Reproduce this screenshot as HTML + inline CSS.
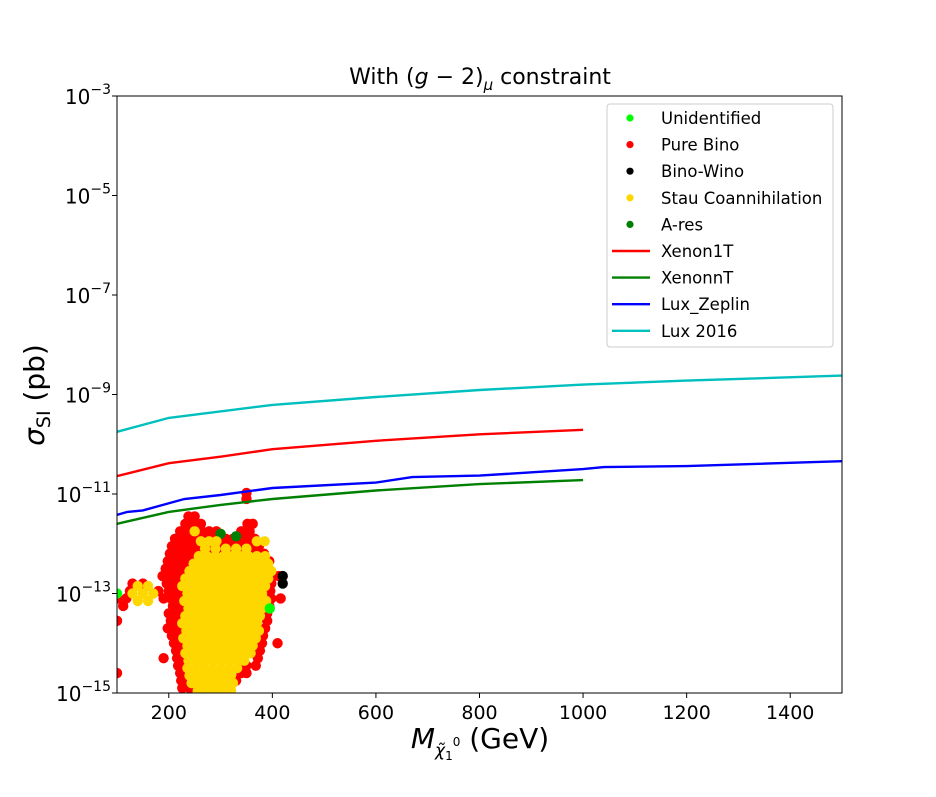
<!DOCTYPE html>
<html><head><meta charset="utf-8"><style>
body{margin:0;background:#fff;}
svg text{font-family:"DejaVu Sans","Liberation Sans",sans-serif;}
</style></head><body>
<svg id="chart" width="936" height="792" viewBox="0 0 936 792">
<text x="480" y="84" font-size="22" text-anchor="middle">With (<tspan font-style="italic">g</tspan> − 2)<tspan font-style="italic" font-size="15" dy="6">μ</tspan><tspan dy="-6"> constraint</tspan></text>
<g id="plot"></g>
<g id="axes"></g>
<text transform="translate(44,395) rotate(-90)" font-size="28" text-anchor="middle"><tspan font-style="italic">σ</tspan><tspan font-size="19" dy="6">SI</tspan><tspan dy="-6"> (pb)</tspan></text>
<text x="480" y="748" font-size="28" text-anchor="middle"><tspan font-style="italic">M</tspan><tspan font-size="17" dy="8" font-style="italic">χ̃</tspan><tspan font-size="12" dy="4">1</tspan><tspan font-size="12" dy="-14">0</tspan><tspan dy="2"> (GeV)</tspan></text>
<g id="legend"></g>
</svg>
<script>
const X0=117,X1=842,Y0=96,Y1=693;
const xMin=100,xMax=1500,yMin=-15,yMax=-3;
const xTicks=[200,400,600,800,1000,1200,1400];
const yTicks=[-15,-13,-11,-9,-7,-5,-3];
const yTickLabels=["10","10","10","10","10","10","10"];
const yTickExps=["−15","−13","−11","−9","−7","−5","−3"];
const lux2016X=[100,200,400,600,800,1000,1200,1500];
const lux2016Y=[-9.75,-9.47,-9.21,-9.05,-8.91,-8.8,-8.72,-8.62];
const xenon1tX=[100,200,300,400,600,800,1000];
const xenon1tY=[-10.64,-10.38,-10.25,-10.1,-9.93,-9.8,-9.71];
const lzX=[100,120,150,230,300,400,600,670,800,1000,1040,1200,1500];
const lzY=[-11.42,-11.36,-11.33,-11.1,-11.02,-10.88,-10.77,-10.66,-10.63,-10.5,-10.46,-10.44,-10.34];
const xnntX=[100,200,300,400,600,800,1000];
const xnntY=[-11.6,-11.36,-11.22,-11.1,-10.93,-10.8,-10.72];
const redRows=[
[-10.98,350],[-11.1,350],
[-11.45,238,250],
[-11.6,232,246,262,352,362],
[-11.75,222,236,250,264,278,292,340,356],
[-11.9,212,226,240,254,268,282,296,310,324,338,352,366],
[-12.05,206,220,234,248,262,276,290,304,318,332,346,360,374],
[-12.2,202,216,230,244,258,272,286,300,314,328,342,356,370,384],
[-12.35,198,212,226,240,254,268,282,296,310,324,338,352,366,380,394],
[-12.5,194,208,222,236,250,264,278,292,306,320,334,348,362,376,390],
[-12.65,188,202,216,230,244,258,272,388,402,412],
[-12.8,196,210,224,238,252,398,130,150],
[-12.95,200,214,228,242,396,125,180],
[-13.1,100,190,204,218,232,398,416,118],
[-13.25,208,222,236,394,112],
[-13.4,200,214,228,390],
[-13.55,100,204,218,232,390],
[-13.7,198,212,226,386],
[-13.85,206,220,234,382],
[-14.0,210,224,380,410],
[-14.15,214,228,376],
[-14.3,216,230,372,190],
[-14.45,218,232,368,350],
[-14.6,100,222,236,350,340],
[-14.75,224,238,330],
[-14.9,226,240,256]];
const yellowRows=[
[-11.75,250],
[-11.95,262,278,292,370,385],
[-12.1,270,290,310,330,350],
[-12.25,258,274,290,306,322,338,354,370,386],
[-12.4,248,264,280,296,312,328,344,360,376,392],
[-12.55,240,256,272,288,304,320,336,352,368,384,398],
[-12.7,232,248,264,280,296,312,328,344,360,376,392],
[-12.85,226,242,258,274,290,306,322,338,354,370,386,140,160],
[-13.0,130,150,170,236,252,268,284,300,316,332,348,364,380],
[-13.15,140,160,230,246,262,278,294,310,326,342,358,374,388],
[-13.3,238,254,270,286,302,318,334,350,366,380],
[-13.45,232,248,264,280,296,312,328,344,360,376],
[-13.6,226,242,258,274,290,306,322,338,354,370],
[-13.75,234,250,266,282,298,314,330,346,362,374],
[-13.9,228,244,260,276,292,308,324,340,356,368],
[-14.05,236,252,268,284,300,316,332,348,362],
[-14.2,232,248,264,280,296,312,328,344,358],
[-14.35,238,254,270,286,302,318,334,346],
[-14.5,236,252,268,284,300,316,332],
[-14.65,240,256,272,288,304,320],
[-14.8,244,260,276,292,308,324],
[-14.95,256,272,288,304,320]];
const greenPts=[[300,-11.8],[330,-11.85],[362,-12.3],[378,-12.45]];
const blackPts=[[420,-12.65],[420,-12.8]];
const limePts=[[395,-13.3],[100,-13.0]];

const NS="http://www.w3.org/2000/svg";
const sx=v=>X0+(v-xMin)/(xMax-xMin)*(X1-X0);
const sy=v=>Y1-(v-yMin)/(yMax-yMin)*(Y1-Y0);
function mk(t,a,p){const e=document.createElementNS(NS,t);for(const k in a)e.setAttribute(k,a[k]);p.appendChild(e);return e;}
const plot=document.getElementById('plot'),axes=document.getElementById('axes'),leg=document.getElementById('legend');
const cp=mk('clipPath',{id:'clip'},plot);
mk('rect',{x:X0,y:Y0,width:X1-X0,height:Y1-Y0},cp);
const g=mk('g',{'clip-path':'url(#clip)'},plot);
function dot(x,y,c,name){const e=mk('circle',{cx:sx(x),cy:sy(y),r:5.2,fill:c},g);

}
redRows.forEach(r=>{for(let i=1;i<r.length;i++)dot(r[i],r[0],'#ff0000','pure-bino-point');});
greenPts.forEach(p=>dot(p[0],p[1],'#008000','a-res-point'));
blackPts.forEach(p=>dot(p[0],p[1],'#000000','bino-wino-point'));
yellowRows.forEach(r=>{for(let i=1;i<r.length;i++)dot(r[i],r[0],'#ffd700','stau-coannihilation-point');});
limePts.forEach(p=>dot(p[0],p[1],'#00ff00','unidentified-point'));
function line(xs,ys,c,name){const d=xs.map((x,i)=>(i?'L':'M')+sx(x).toFixed(1)+','+sy(ys[i]).toFixed(1)).join('');
const e=mk('path',{d:d,stroke:c,'stroke-width':2.4,fill:'none'},g);

}
line(lux2016X,lux2016Y,'#00bfbf','lux-2016-line');
line(xenon1tX,xenon1tY,'#ff0000','xenon1t-line');
line(lzX,lzY,'#0000ff','lux-zeplin-line');
line(xnntX,xnntY,'#008000','xenonnt-line');
mk('rect',{x:X0,y:Y0,width:X1-X0,height:Y1-Y0,fill:'none',stroke:'#000','stroke-width':1},axes);
xTicks.forEach(t=>{mk('line',{x1:sx(t),x2:sx(t),y1:Y1,y2:Y1+5,stroke:'#000'},axes);
const e=mk('text',{x:sx(t),y:Y1+26,'font-size':19,'text-anchor':'middle'},axes);e.textContent=t;

});
yTicks.forEach((t,i)=>{mk('line',{x1:X0-5,x2:X0,y1:sy(t),y2:sy(t),stroke:'#000'},axes);
const e=mk('text',{x:X0-6,y:sy(t)+8,'font-size':20,'text-anchor':'end'},axes);e.textContent=yTickLabels[i];
const s=mk('tspan',{'font-size':14,dy:-10},e);s.textContent=yTickExps[i];

});
mk('rect',{x:607,y:104,width:226,height:243,rx:3,fill:'#fff',stroke:'#ccc'},leg);
const legLabels=['Unidentified','Pure Bino','Bino-Wino','Stau Coannihilation','A-res','Xenon1T','XenonnT','Lux_Zeplin','Lux 2016'];
const legColors=['#00ff00','#ff0000','#000000','#ffd700','#008000','#ff0000','#008000','#0000ff','#00bfbf'];
legLabels.forEach((l,i)=>{const y=118+i*26.6;
if(i<5)mk('circle',{cx:630,cy:y,r:3.6,fill:legColors[i]},leg);
else mk('line',{x1:612,x2:650,y1:y,y2:y,stroke:legColors[i],'stroke-width':2.4},leg);
const t=mk('text',{x:661,y:y+6,'font-size':16.5},leg);t.textContent=l;

});
</script>
</body></html>
